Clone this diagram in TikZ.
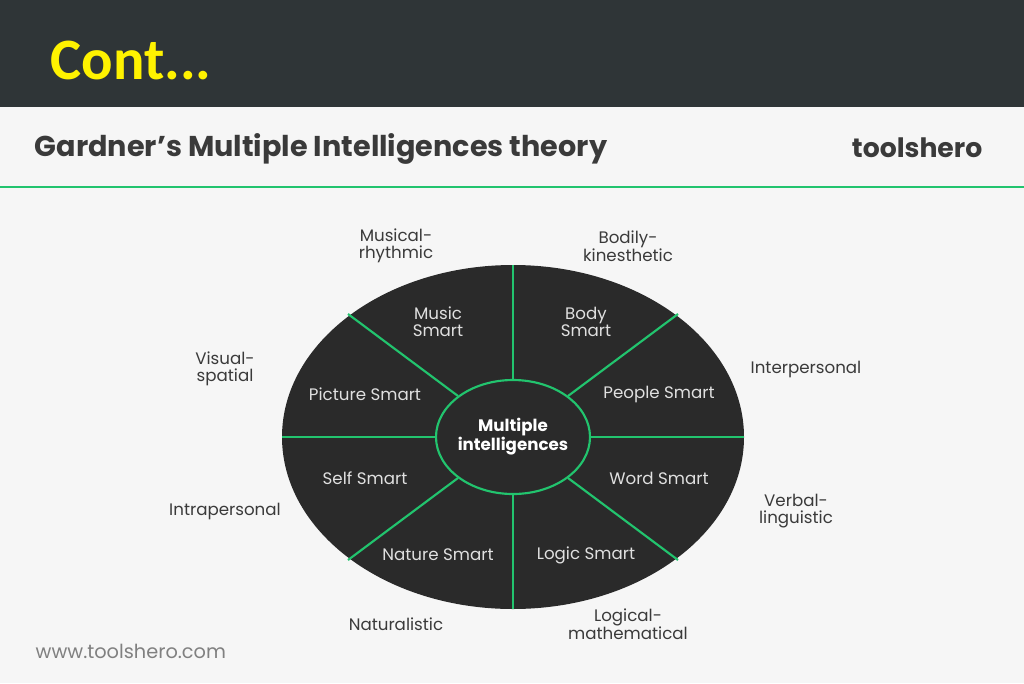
\documentclass[tikz,border=0pt]{standalone}
\usepackage{fontspec}
\setmainfont{Poppins}
\newfontfamily\calib{Carlito}
\definecolor{headbg}{HTML}{2F3537}
\definecolor{pagebg}{HTML}{F6F6F6}
\definecolor{disc}{HTML}{2A2A2A}
\definecolor{mint}{HTML}{22C46E}
\definecolor{ink}{HTML}{3A3A3A}
\begin{document}
\begin{tikzpicture}[x=0.75pt,y=-0.75pt,
  outer/.style={ink,font=\fontsize{12.5}{12.5}\selectfont,align=center},
  inner/.style={white!88!black,font=\fontsize{12.5}{12.5}\selectfont,align=center},
  spoke/.style={mint,line width=1.6pt}]

\useasboundingbox (0,0) rectangle (1024,683);
\fill[pagebg] (0,0) rectangle (1024,683);
\fill[headbg] (0,0) rectangle (1024,107);
\node[yellow,font=\calib\bfseries\fontsize{44}{48}\selectfont,anchor=west] (cont) at (46,60) {Cont...};

\node[ink,font=\bfseries\fontsize{21.5}{24}\selectfont,anchor=west] (title) at (30,149) {Gardner\symbol{39}s Multiple Intelligences theory};
\node[ink,font=\bfseries\fontsize{20}{22}\selectfont,anchor=east] (brand) at (987,148) {toolshero};
\draw[mint,line width=1pt] (0,187) -- (1024,187);

% the disc
\fill[disc] (513,437) ellipse[x radius=231, y radius=172];
\coordinate (n) at (513,265); \coordinate (s) at (513,609);
\coordinate (w) at (282,437); \coordinate (e) at (744,437);
\coordinate (nw) at (348,314); \coordinate (ne) at (678,314);
\coordinate (sw) at (348,560); \coordinate (se) at (678,560);
\draw[spoke] (513,437) ellipse[x radius=77, y radius=57];
\coordinate (hn) at (513,380); \coordinate (hs) at (513,494);
\coordinate (hw) at (436,437); \coordinate (he) at (590,437);
\coordinate (hnw) at (458,396); \coordinate (hne) at (568,396);
\coordinate (hsw) at (458,478); \coordinate (hse) at (568,478);
\foreach \a in {n,s,w,e,nw,ne,sw,se}
  \draw[spoke] (\a) -- (h\a);

\node[white,font=\bfseries\fontsize{12.5}{12.5}\selectfont,align=center] (mi) at (513,437) {Multiple\\intelligences};

% segments
\node[inner] (music) at (438,322) {Music\\Smart};
\node[inner] (body) at (586,322) {Body\\Smart};
\node[inner] (picture) at (365,394) {Picture Smart};
\node[inner] (people) at (659,394) {People Smart};
\node[inner] (self) at (365,478) {Self Smart};
\node[inner] (word) at (659,478) {Word Smart};
\node[inner] (nature) at (438,555) {Nature Smart};
\node[inner] (logic) at (586,555) {Logic Smart};

% labels around
\node[outer] (l1) at (396,246) {Musical-\\rhythmic};
\node[outer] (l2) at (628,246) {Bodily-\\kinesthetic};
\node[outer] (l3) at (225,369) {Visual-\\spatial};
\node[outer] (l4) at (806,369) {Interpersonal};
\node[outer] (l5) at (225,511) {Intrapersonal};
\node[outer] (l6) at (796,511) {Verbal-\\linguistic};
\node[outer] (l7) at (396,624) {Naturalistic};
\node[outer] (l8) at (628,624) {Logical-\\mathematical};

\node[gray,font=\fontsize{14.5}{16}\selectfont,anchor=west] (url) at (31,651) {www.toolshero.com};
\end{tikzpicture}
\end{document}
